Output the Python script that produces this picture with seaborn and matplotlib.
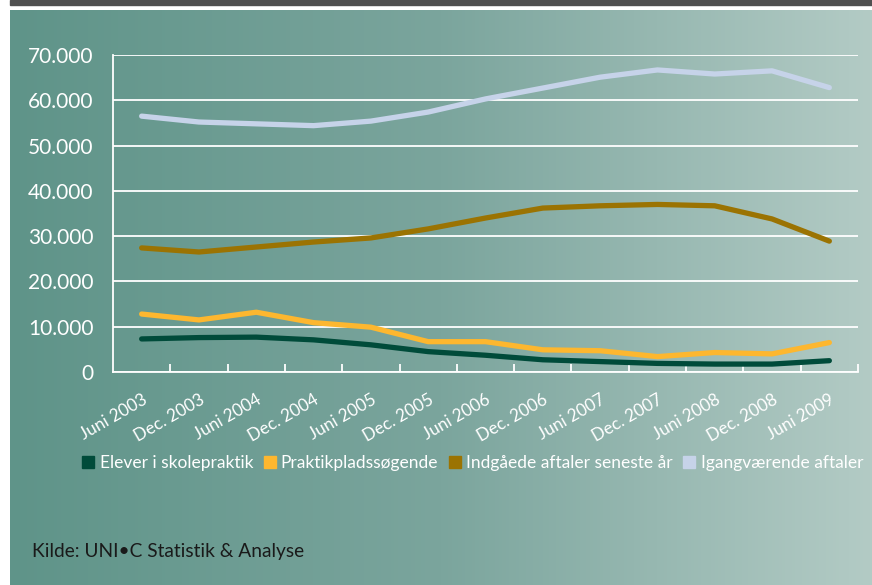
import numpy as np
import pandas as pd
import matplotlib.pyplot as plt
import seaborn as sns
from matplotlib.lines import Line2D
from matplotlib.patches import Rectangle
from matplotlib.colors import LinearSegmentedColormap
from matplotlib.ticker import FuncFormatter, FixedLocator
from matplotlib.transforms import ScaledTranslation

# Data
periods = ['Juni 2003', 'Dec. 2003', 'Juni 2004', 'Dec. 2004', 'Juni 2005', 'Dec. 2005',
           'Juni 2006', 'Dec. 2006', 'Juni 2007', 'Dec. 2007', 'Juni 2008', 'Dec. 2008', 'Juni 2009']
elever = [7300, 7600, 7700, 7100, 6000, 4500, 3700, 2700, 2300, 1900, 1750, 1750, 2500]
praktik = [12800, 11500, 13200, 10900, 9900, 6700, 6700, 4900, 4700, 3400, 4300, 4000, 6500]
indgaaede = [27400, 26500, 27600, 28700, 29600, 31600, 34000, 36200, 36700, 37000, 36700, 33800, 28900]
igang = [56500, 55200, 54800, 54400, 55400, 57400, 60300, 62700, 65100, 66700, 65800, 66500, 62800]

series = ['Elever i skolepraktik', 'Praktikpladssøgende',
          'Indgåede aftaler seneste år', 'Igangværende aftaler']
colors = ['#004b3a', '#fdb72f', '#9b7302', '#c6d3e9']

df = pd.DataFrame({'Periode': periods, series[0]: elever, series[1]: praktik,
                   series[2]: indgaaede, series[3]: igang})
df['pos'] = range(len(periods))
long = df.melt(id_vars=['Periode', 'pos'], var_name='Serie', value_name='Antal')

sns.set_style("white")
plt.rcParams['font.family'] = ['Lato', 'DejaVu Sans']

fig = plt.figure(figsize=(8.72, 5.85), dpi=100)

# gradient background panel
bg = fig.add_axes([10 / 872, 0, 862 / 872, 575 / 585])
cmap = LinearSegmentedColormap.from_list('bg', ['#5f9489', '#7ba59d', '#b3cbc5'])
bg.imshow(np.linspace(0, 1, 256).reshape(1, -1), aspect='auto', cmap=cmap, extent=[0, 1, 0, 1])
bg.axis('off')
fig.patches.append(Rectangle((10 / 872, 580 / 585), 862 / 872, 5 / 585,
                             transform=fig.transFigure, color='#505050'))

ax = fig.add_axes([113 / 872, 213 / 585, 745 / 872, 317 / 585])
ax.set_zorder(2)
ax.patch.set_alpha(0)

sns.lineplot(data=long, x='pos', y='Antal', hue='Serie', hue_order=series,
             palette=colors, sort=False, linewidth=3.8, legend=False, ax=ax,
             solid_capstyle='round')

ax.set_xlim(-0.5, len(periods) - 0.5)
ax.set_ylim(0, 70000)
ax.set_yticks(range(0, 70001, 10000))
ax.yaxis.set_major_formatter(FuncFormatter(lambda v, p: f'{int(v):,}'.replace(',', '.')))
ax.grid(axis='y', color='white', linewidth=1.3)
ax.set_axisbelow(True)

ax.set_xticks(range(len(periods)))
ax.set_xticklabels(periods, rotation=30, ha='right', rotation_mode='anchor')
shift = ScaledTranslation(6 / 100, 0, fig.dpi_scale_trans)
for lbl in ax.get_xticklabels():
    lbl.set_transform(lbl.get_transform() + shift)
ax.xaxis.set_minor_locator(FixedLocator(np.arange(0.5, len(periods), 1.0)))
ax.tick_params(axis='x', which='major', length=0, pad=14, labelsize=12.3, labelcolor='white')
ax.tick_params(axis='x', which='minor', direction='in', length=6, width=1.3,
               color='white', bottom=True)
ax.tick_params(axis='y', length=0, pad=14, labelsize=15, labelcolor='white')

for s in ['top', 'right']:
    ax.spines[s].set_visible(False)
for s in ['left', 'bottom']:
    ax.spines[s].set_color('white')
    ax.spines[s].set_linewidth(1.3)
ax.set_xlabel('')
ax.set_ylabel('')

handles = [Line2D([], [], marker='s', linestyle='', color=c, markersize=8) for c in colors]
leg = fig.legend(handles, series, loc='center', bbox_to_anchor=(0.542, 0.209), ncol=4,
                 frameon=False, handlelength=0.7, handletextpad=0.3, columnspacing=0.6,
                 fontsize=12.5)
for t in leg.get_texts():
    t.set_color('white')

fig.text(32 / 872, 1 - 552 / 585, 'Kilde: UNI•C Statistik & Analyse', fontsize=13.8,
         color='#1a1a1a', va='center', ha='left')

fig.savefig('out.png', dpi=100)
